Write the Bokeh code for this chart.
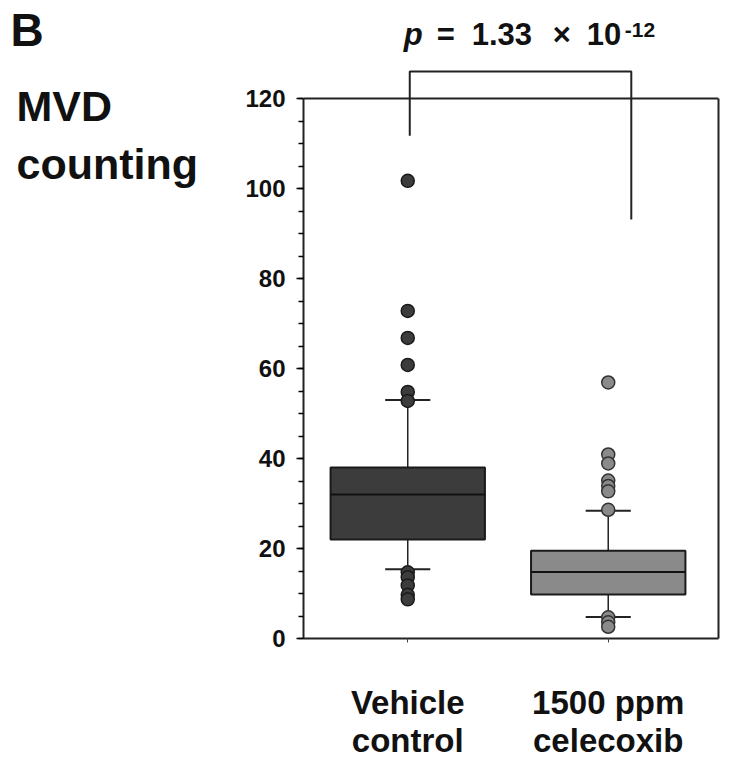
from bokeh.plotting import figure
from bokeh.layouts import row
from bokeh.models import (Range1d, LinearAxis, SingleIntervalTicker, FixedTicker,
                          Span, Label)
from bokeh.embed import file_html
from bokeh.resources import INLINE

# ---------------- data ----------------
categories = ["Vehicle\ncontrol", "1500 ppm\ncelecoxib"]
positions = [1, 2]
q1 = [22.0, 9.8]
medians = [32.0, 14.8]
q3 = [38.0, 19.5]
whisker_low = [15.4, 4.8]
whisker_high = [53.0, 28.4]
vehicle_outliers = [101.7, 72.8, 66.8, 60.8, 54.8, 52.8, 14.7, 13.6, 11.8, 9.7, 8.7]
celecoxib_outliers = [56.9, 40.9, 38.9, 35.1, 33.9, 32.7, 28.6, 4.7, 3.6, 2.6]
box_colors = ["#3c3c3c", "#8a8a8a"]
y_ticks_interval = 20
y_axis_bounds = (0, 120)

# significance bracket (data coords)
bracket_x = [1.01, 1.01, 2.115, 2.115]
bracket_y = [111.7, 126.0, 126.0, 93.1]

FONT = "Liberation Sans"
TOP, BOTTOM, H = 8, 129, 767

yr = Range1d(0, 140)

p = figure(width=492, height=H, output_backend="svg", toolbar_location=None,
           x_range=Range1d(0.48, 2.55), y_range=yr,
           min_border_left=63, min_border_right=14, min_border_top=TOP,
           min_border_bottom=BOTTOM)
p.outline_line_color = None
p.grid.visible = False

# axes
xa = p.xaxis[0]
xa.ticker = FixedTicker(ticks=positions)
xa.major_label_overrides = {pos: lab for pos, lab in zip(positions, categories)}
xa.major_label_text_font = FONT
xa.major_label_text_font_style = "bold"
xa.major_label_text_font_size = "33px"
xa.major_label_text_line_height = 1.05
xa.major_label_text_color = "#111111"
xa.major_label_standoff = 41
xa.major_tick_out = 4
xa.major_tick_in = 0
xa.minor_tick_line_color = None
xa.axis_line_width = 2
xa.axis_line_color = "#222222"
xa.major_tick_line_color = "#444444"

ya = p.yaxis[0]
ya.ticker = SingleIntervalTicker(interval=y_ticks_interval, num_minor_ticks=4)
ya.bounds = y_axis_bounds
ya.major_label_text_font = FONT
ya.major_label_text_font_style = "bold"
ya.major_label_text_font_size = "24px"
ya.major_label_text_color = "#111111"
ya.major_label_standoff = 11
ya.major_tick_out = 7
ya.major_tick_in = 0
ya.minor_tick_out = 5
ya.minor_tick_in = 0
ya.axis_line_width = 2
ya.axis_line_color = "#222222"
ya.major_tick_line_width = 1.5
ya.minor_tick_line_width = 1.5

ra = LinearAxis(bounds=y_axis_bounds, major_label_text_font_size="0px",
                major_tick_line_color=None, minor_tick_line_color=None,
                axis_line_width=2, axis_line_color="#222222")
p.add_layout(ra, "right")

p.add_layout(Span(location=y_axis_bounds[1], dimension="width",
                  line_color="#222222", line_width=2))

# whiskers
p.segment(x0=positions, x1=positions, y0=q3, y1=whisker_high,
          line_color="#222222", line_width=1.5)
p.segment(x0=positions, x1=positions, y0=q1, y1=whisker_low,
          line_color="#222222", line_width=1.5)
cap_half = 0.1125
p.segment(x0=[x - cap_half for x in positions], x1=[x + cap_half for x in positions],
          y0=whisker_high, y1=whisker_high, line_color="#222222", line_width=2)
p.segment(x0=[x - cap_half for x in positions], x1=[x + cap_half for x in positions],
          y0=whisker_low, y1=whisker_low, line_color="#222222", line_width=2)

# boxes
p.vbar(x=positions, width=0.77, bottom=q1, top=q3, fill_color=box_colors,
       line_color="#1a1a1a", line_width=2)
p.segment(x0=[x - 0.385 for x in positions], x1=[x + 0.385 for x in positions],
          y0=medians, y1=medians, line_color="#111111", line_width=2)

# outliers
p.scatter(x=[positions[0]] * len(vehicle_outliers), y=vehicle_outliers, size=13,
          fill_color=box_colors[0], line_color="#1a1a1a", line_width=1.5)
p.scatter(x=[positions[1]] * len(celecoxib_outliers), y=celecoxib_outliers, size=13,
          fill_color=box_colors[1], line_color="#333333", line_width=1.5)

# bracket
p.line(x=bracket_x, y=bracket_y, line_color="#222222", line_width=2)

# p-value text
p_parts = [("p", "bold italic", "31px", 0, 12),
           ("=", "bold", "31px", 33, 12),
           ("1.33", "bold", "31px", 68, 12),
           ("\u00d7", "bold", "31px", 149, 12),
           ("10", "bold", "31px", 183, 12),
           ("-12", "bold", "21px", 221, 16)]
for txt, style, size, dx, dy in p_parts:
    p.add_layout(Label(x=0.98, y=131.6, x_offset=dx, y_offset=dy, text=txt,
                       text_font=FONT, text_font_style=style,
                       text_font_size=size, text_color="#111111",
                       text_baseline="alphabetic", text_align="left"))

# left panel with the panel letter and the y title
lf = figure(width=240, height=H, output_backend="svg", toolbar_location=None,
            x_range=Range1d(0, 240), y_range=yr, x_axis_type=None, y_axis_type=None,
            min_border_left=0, min_border_right=0, min_border_top=TOP,
            min_border_bottom=BOTTOM)
lf.outline_line_color = None
lf.grid.visible = False
lf.add_layout(Label(x=10, y=131.3, y_offset=18, text="B", text_font=FONT,
                    text_font_style="bold", text_font_size="46px",
                    text_color="#111111", text_baseline="alphabetic"))
lf.add_layout(Label(x=16, y=116.9, y_offset=6, text="MVD", text_font=FONT,
                    text_font_style="bold", text_font_size="43px",
                    text_color="#111111", text_baseline="alphabetic"))
lf.add_layout(Label(x=16, y=102.4, y_offset=14, text="counting", text_font=FONT,
                    text_font_style="bold", text_font_size="43px",
                    text_color="#111111", text_baseline="alphabetic"))

layout = row(lf, p, spacing=0)
open("out.html", "w").write(file_html(layout, INLINE))
